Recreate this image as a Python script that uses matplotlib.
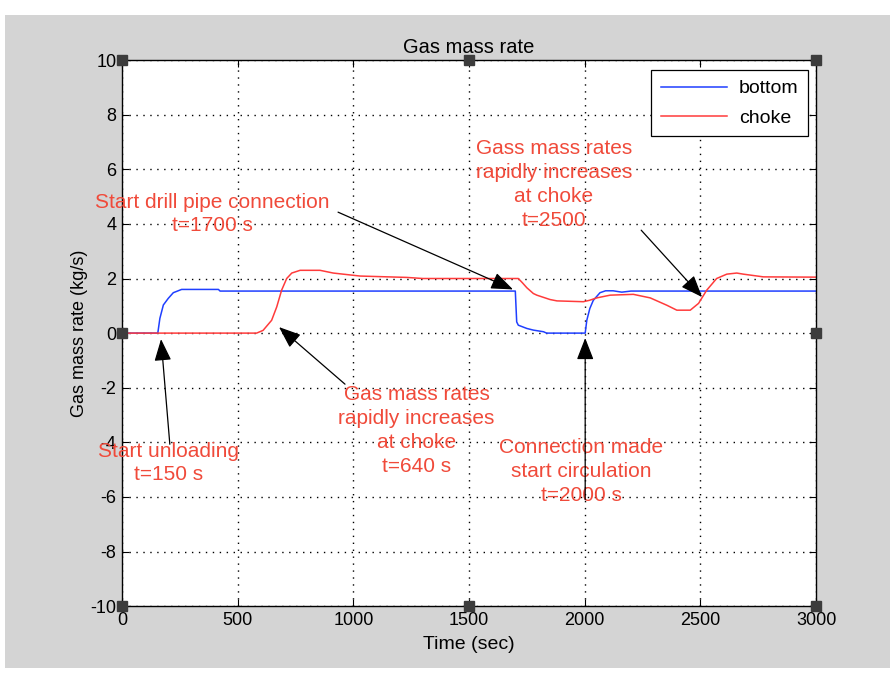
import numpy as np
import matplotlib
matplotlib.use("Agg")
import matplotlib.pyplot as plt
from matplotlib.patches import Rectangle

plt.rcParams['font.family'] = ['Liberation Sans', 'DejaVu Sans']
plt.rcParams['axes.unicode_minus'] = False

# gas mass rate at the bottom of the well
t_bottom = [0, 155, 164, 179, 200, 222, 258, 417, 424, 1700, 1706, 1713, 1750,
            1778, 1822, 1835, 2002, 2009, 2022, 2037, 2066, 2090, 2123, 2160,
            2200, 3000]
q_bottom = [0, 0, 0.54, 1.03, 1.27, 1.48, 1.6, 1.6, 1.54, 1.54, 0.41, 0.29, 0.17,
            0.11, 0.05, 0, 0, 0.47, 0.9, 1.2, 1.48, 1.55, 1.55, 1.5, 1.54, 1.54]

# gas mass rate at the choke
t_choke = [0, 582, 610, 647, 669, 690, 712, 734, 770, 856, 913, 1029, 1231, 1300,
           1713, 1730, 1750, 1778, 1793, 1850, 1880, 1994, 2020, 2052, 2110, 2210,
           2283, 2355, 2398, 2456, 2492, 2527, 2570, 2614, 2657, 2685, 2772, 3000]
q_choke = [0, 0, 0.1, 0.47, 0.96, 1.57, 2.0, 2.2, 2.3, 2.3, 2.2, 2.09, 2.04, 2.0,
           2.0, 1.85, 1.66, 1.45, 1.39, 1.23, 1.18, 1.15, 1.2, 1.29, 1.39, 1.42,
           1.29, 1.02, 0.84, 0.84, 1.09, 1.57, 2.0, 2.16, 2.2, 2.16, 2.06, 2.05]

# (text, text position, arrow tail, arrow head)
notes = [
    ("Start drill pipe connection\nt=1700 s", (389, 4.36), (934, 4.43), (1690, 1.6)),
    ("Gass mass rates\nrapidly increases\nat choke\nt=2500", (1867, 5.44), (2244, 3.77), (2507, 1.32)),
    ("Gas mass rates\nrapidly increases\nat choke\nt=640 s", (1273, -3.57), (964, -1.87), (679, 0.22)),
    ("Start unloading\nt=150 s", (203, -4.76), (207, -4.07), (169, -0.22)),
    ("Connection made\nstart circulation\nt=2000 s", (1985, -5.07), (2002, -6.1), (2002, -0.18)),
]

fig = plt.figure(figsize=(8.9, 6.75), dpi=100, facecolor='white')
fig.patches.append(Rectangle((0.0056, 0.0104), 0.9944, 0.9676, transform=fig.transFigure,
                             facecolor='#d4d4d4', edgecolor='none', zorder=-10))
ax = fig.add_axes([0.137, 0.102, 0.78, 0.809])
ax.set_facecolor('white')

ax.plot(t_bottom, q_bottom, color='#1f3fff', lw=1.1, label='bottom')
ax.plot(t_choke, q_choke, color='#ff3b3b', lw=1.1, label='choke')

ax.set_xlim(0, 3000)
ax.set_ylim(-10, 10)
ax.set_xticks(np.arange(0, 3001, 500))
ax.set_yticks(np.arange(-10, 11, 2))
ax.tick_params(direction='in', top=True, right=True, length=5, labelsize=13, pad=4)
ax.grid(True, color='black', linestyle=(0, (1, 4)), lw=1)
for s in ax.spines.values():
    s.set_linewidth(1)

ax.set_title("Gas mass rate", fontsize=14.5, pad=5)
ax.set_xlabel("Time (sec)", fontsize=14, labelpad=5)
ax.set_ylabel("Gas mass rate (kg/s)", fontsize=13, labelpad=2)

for txt, pos, tail, head in notes:
    ax.text(pos[0], pos[1], txt, color='#f04a3a', fontsize=15, ha='center', va='center',
            linespacing=1.32, zorder=5)
    ax.annotate("", xy=head, xytext=tail,
                arrowprops=dict(arrowstyle='-|>,head_length=0.9,head_width=0.35',
                                color='black', lw=0.9, shrinkA=0, shrinkB=0,
                                mutation_scale=15), zorder=6)

leg = ax.legend(loc='upper right', bbox_to_anchor=(0.9885, 0.9817), borderaxespad=0,
                fancybox=False, edgecolor='black', framealpha=1, fontsize=14,
                handlelength=3.4, labelspacing=0.6, borderpad=0.5, handletextpad=0.6)
leg.get_frame().set_linewidth(0.9)

# selection handles on the axes box
hx = [0, 0.5, 1, 0, 1, 0, 0.5, 1]
hy = [1, 1, 1, 0.5, 0.5, 0, 0, 0]
ax.plot(hx, hy, 's', color='#3c3c3c', ms=7, transform=ax.transAxes, clip_on=False, zorder=10)

fig.savefig("out.png", dpi=100, facecolor=fig.get_facecolor())
